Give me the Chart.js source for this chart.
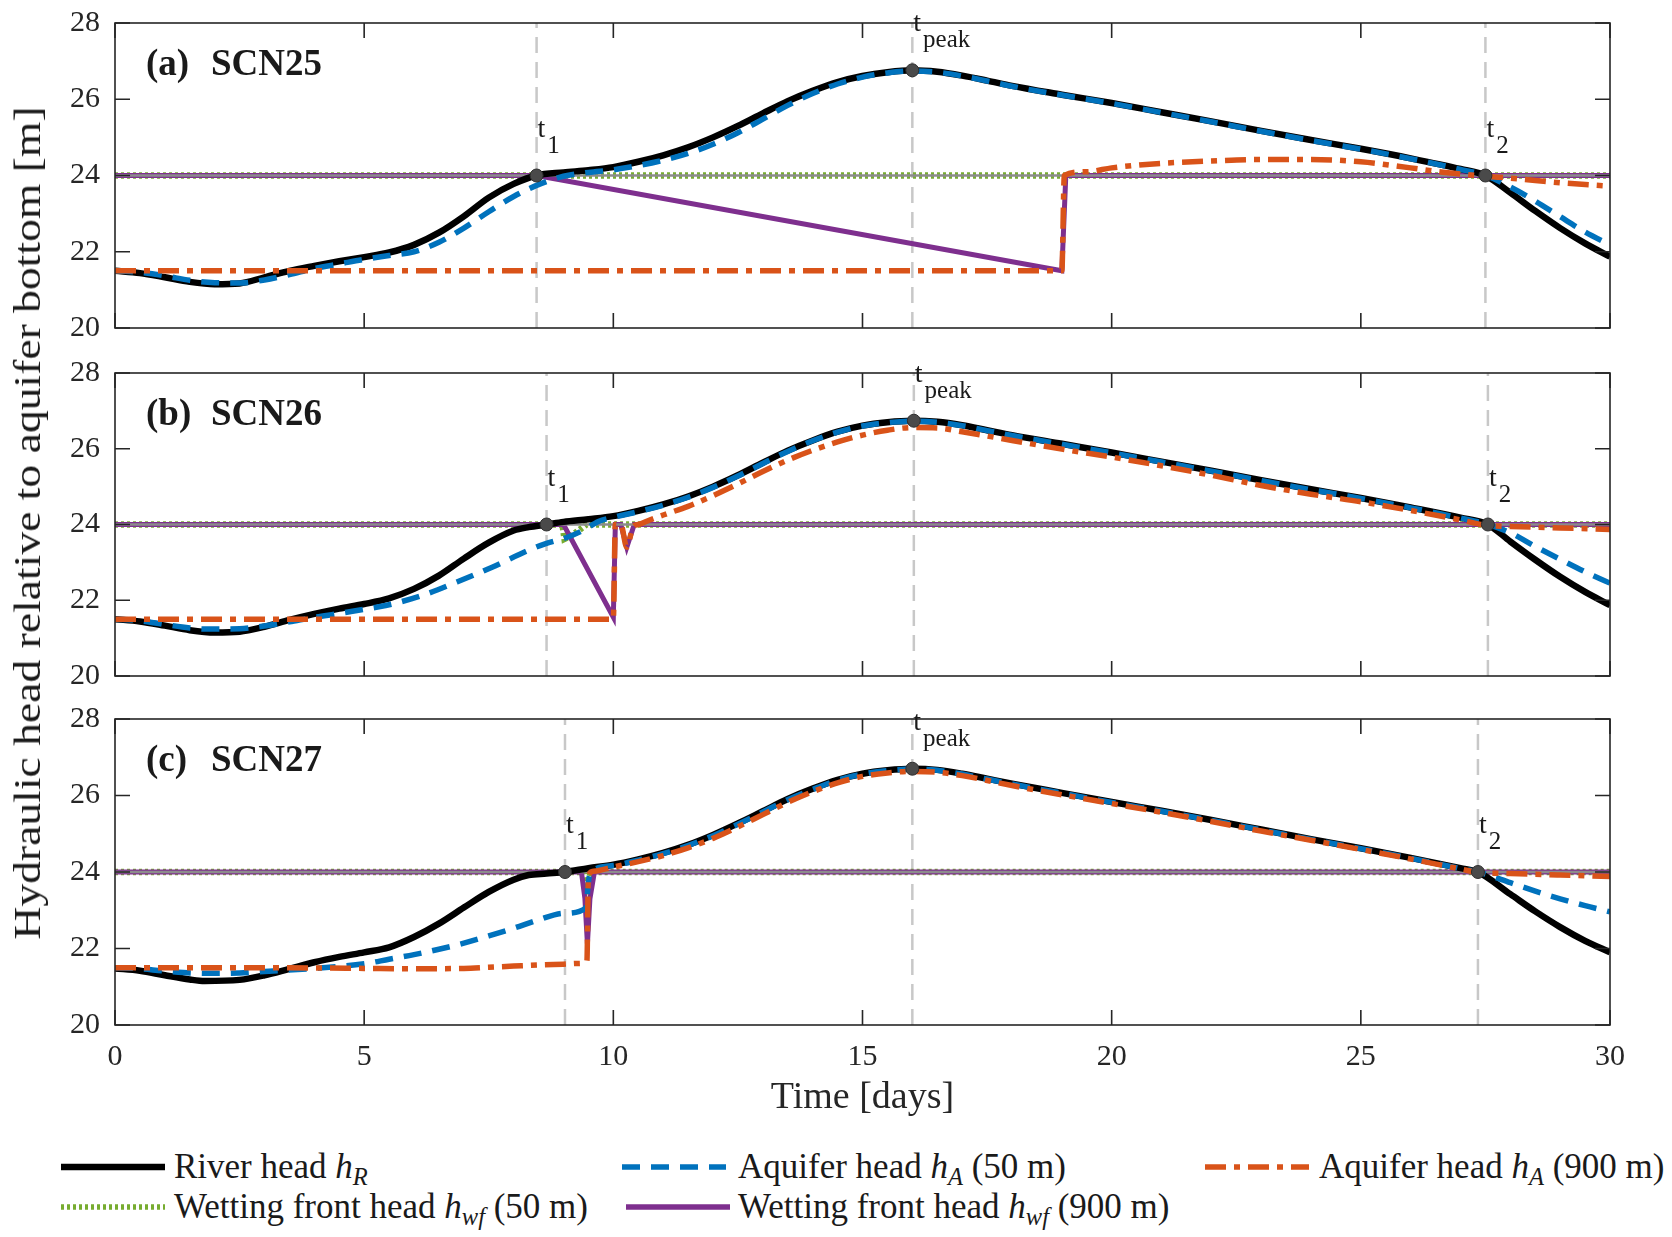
<!DOCTYPE html>
<html>
<head>
<meta charset="utf-8">
<script src="https://cdn.jsdelivr.net/npm/chart.js@4.4.0/dist/chart.umd.min.js"></script>
<style>
body { margin:0; background:#fff; width:1672px; height:1237px; position:relative; overflow:hidden; font-family:"Liberation Serif", serif; color:#1a1a1a; }
canvas { position:absolute; left:0; }
#ylab { position:absolute; left:27px; top:523px; transform:translate(-50%,-50%) rotate(-90deg) scaleX(1.2); white-space:nowrap; font-family:"Liberation Serif", serif; font-size:38px; }
.lt { position:absolute; font-family:"Liberation Serif", serif; font-size:35px; line-height:1; transform:translateY(-52%); white-space:nowrap; }
.lt sub { font-size:70%; vertical-align:-0.3em; line-height:0; }
</style>
</head>
<body>
<canvas id="pa" width="1672" height="345" style="top:0px"></canvas>
<canvas id="pb" width="1672" height="345" style="top:345px"></canvas>
<canvas id="pc" width="1672" height="450" style="top:690px"></canvas>
<div id="ylab">Hydraulic head relative to aquifer bottom [m]</div>
<div id="legend"></div>
<script>
// time [days], head [m] pairs

// (a) SCN25
var riverA = [[0,21.5],[0.5,21.44],[1,21.33],[1.5,21.21],[2,21.15],[2.5,21.17],[3,21.33],[3.5,21.5],[4,21.63],[4.5,21.75],[5,21.86],[5.5,21.98],[6,22.18],[6.5,22.5],[7,22.93],[7.5,23.42],[8,23.78],[8.46,24.0],[9,24.08],[9.5,24.14],[10,24.22],[10.5,24.36],[11,24.53],[11.5,24.74],[12,25.0],[12.5,25.3],[13,25.63],[13.5,25.95],[14,26.22],[14.5,26.45],[15,26.61],[15.5,26.71],[16,26.76],[16.5,26.72],[17,26.62],[17.5,26.49],[18,26.35],[19,26.12],[20,25.9],[21,25.66],[22,25.42],[23,25.17],[24,24.93],[25,24.7],[26,24.45],[27,24.17],[27.5,24.0],[28,23.55],[28.5,23.07],[29,22.62],[29.5,22.22],[30,21.87]];
var aq50A = [[0,21.5],[0.5,21.46],[1,21.37],[1.5,21.25],[2,21.19],[2.5,21.18],[3,21.26],[3.5,21.4],[4,21.56],[4.5,21.68],[5,21.8],[5.5,21.9],[6,22.0],[6.5,22.25],[7,22.62],[7.5,23.05],[8,23.45],[8.46,23.74],[9,23.98],[9.5,24.08],[10,24.15],[10.5,24.26],[11,24.4],[11.5,24.58],[12,24.82],[12.5,25.12],[13,25.48],[13.5,25.84],[14,26.15],[14.5,26.4],[15,26.58],[15.5,26.69],[16,26.74],[16.5,26.71],[17,26.61],[17.5,26.48],[18,26.34],[19,26.11],[20,25.89],[21,25.65],[22,25.41],[23,25.16],[24,24.92],[25,24.69],[26,24.44],[27,24.16],[27.5,24.0],[28,23.7],[28.5,23.33],[29,22.92],[29.5,22.52],[30,22.18]];
var aq900A = [[0,21.5],[19.0,21.5],[19.05,24.0],[19.5,24.1],[20,24.2],[20.5,24.27],[21,24.32],[22,24.38],[23,24.42],[24,24.42],[25,24.36],[26,24.2],[26.5,24.11],[27,24.04],[27.5,23.98],[28,23.93],[28.5,23.87],[29,23.81],[30,23.72]];
var wf50A = [[0,24],[30,24]];
var wf900A = [[0,24],[8.46,24],[19.0,21.5],[19.08,24.0],[30,24]];
var eventTimesA = [8.46, 16.0, 27.5];
var eventHeadsA = [24, 26.76, 24];

// (b) SCN26
var riverB = [[0,21.5],[0.5,21.44],[1,21.33],[1.5,21.21],[2,21.15],[2.5,21.17],[3,21.3],[3.5,21.48],[4,21.64],[4.5,21.78],[5,21.9],[5.5,22.05],[6,22.3],[6.5,22.65],[7,23.1],[7.5,23.52],[8,23.84],[8.3,23.93],[8.66,24.0],[9,24.07],[9.5,24.14],[10,24.22],[10.5,24.36],[11,24.53],[11.5,24.74],[12,25.0],[12.5,25.3],[13,25.63],[13.5,25.95],[14,26.22],[14.5,26.45],[15,26.61],[15.5,26.7],[16,26.74],[16.5,26.71],[17,26.62],[17.5,26.49],[18,26.36],[19,26.13],[20,25.9],[21,25.66],[22,25.42],[23,25.17],[24,24.93],[25,24.7],[26,24.45],[27,24.18],[27.55,24.0],[28,23.55],[28.5,23.07],[29,22.62],[29.5,22.22],[30,21.87]];
var aq50B = [[0,21.5],[0.5,21.46],[1,21.36],[1.5,21.27],[1.84,21.24],[2.5,21.25],[3,21.32],[3.5,21.43],[4,21.55],[4.5,21.65],[5,21.76],[5.43,21.86],[6.15,22.12],[6.86,22.48],[7.58,22.88],[8.3,23.32],[8.63,23.49],[9.09,23.67],[9.4,23.85],[9.7,24.08],[10,24.19],[10.5,24.34],[11,24.51],[11.5,24.72],[12,24.98],[12.5,25.28],[13,25.61],[13.5,25.93],[14,26.21],[14.5,26.44],[15,26.6],[15.5,26.69],[16,26.73],[16.5,26.7],[17,26.61],[17.5,26.48],[18,26.35],[19,26.12],[20,25.89],[21,25.65],[22,25.41],[23,25.16],[24,24.92],[25,24.69],[26,24.44],[27,24.17],[27.55,24.0],[28,23.78],[28.5,23.42],[29,23.08],[29.5,22.75],[30,22.45]];
var aq900B = [[0,21.5],[10.0,21.5],[10.04,24.0],[10.15,24.0],[10.27,23.4],[10.4,23.95],[10.5,24.0],[10.73,24.12],[11,24.25],[11.5,24.48],[12,24.76],[12.5,25.07],[13,25.4],[13.5,25.7],[14,25.96],[14.5,26.18],[15,26.36],[15.5,26.49],[16,26.56],[16.5,26.55],[17,26.45],[18,26.22],[19,25.99],[20,25.78],[21,25.55],[22,25.3],[23,25.03],[24,24.8],[25,24.6],[26,24.37],[27,24.12],[27.55,23.97],[28,23.95],[29,23.91],[30,23.87]];
var wf50B = [[0,24],[8.98,24],[9.02,23.62],[9.2,23.74],[9.46,24.0],[30,24]];
var wf900B = [[0,24],[9.0,24],[10.0,21.55],[10.04,24.0],[10.15,24.0],[10.27,23.4],[10.42,24.0],[30,24]];
var eventTimesB = [8.66, 16.03, 27.55];
var eventHeadsB = [24, 26.74, 24];

// (c) SCN27
var riverC = [[0,21.48],[0.5,21.42],[1,21.3],[1.5,21.19],[1.8,21.15],[2.5,21.18],[3,21.3],[3.5,21.47],[4,21.64],[4.5,21.78],[5,21.9],[5.5,22.03],[6,22.3],[6.5,22.65],[7,23.07],[7.5,23.48],[8,23.8],[8.3,23.92],[8.66,23.96],[9.03,24.0],[9.5,24.1],[10,24.19],[10.5,24.33],[11,24.5],[11.5,24.71],[12,24.97],[12.5,25.27],[13,25.59],[13.5,25.91],[14,26.18],[14.5,26.41],[15,26.57],[15.5,26.66],[16,26.7],[16.5,26.67],[17,26.57],[17.5,26.44],[18,26.31],[19,26.07],[20,25.83],[21,25.6],[22,25.36],[23,25.11],[24,24.86],[25,24.62],[26,24.37],[27,24.1],[27.35,24.0],[28,23.42],[28.5,22.97],[29,22.56],[29.5,22.2],[30,21.9]];
var aq50C = [[0,21.5],[0.5,21.47],[1,21.41],[1.84,21.35],[2.5,21.36],[3,21.4],[4,21.48],[5,21.6],[5.5,21.72],[6,21.84],[6.5,21.98],[7,22.14],[7.5,22.33],[8,22.53],[8.5,22.75],[9,22.92],[9.45,23.06],[9.5,23.75],[9.6,24.05],[10,24.17],[10.5,24.31],[11,24.48],[11.5,24.69],[12,24.95],[12.5,25.25],[13,25.57],[13.5,25.89],[14,26.16],[14.5,26.4],[15,26.56],[15.5,26.65],[16,26.69],[16.5,26.66],[17,26.56],[17.5,26.43],[18,26.3],[19,26.06],[20,25.82],[21,25.59],[22,25.35],[23,25.1],[24,24.85],[25,24.61],[26,24.36],[27,24.09],[27.35,24.0],[28,23.72],[28.5,23.5],[29,23.3],[29.5,23.12],[30,22.96]];
var aq900C = [[0,21.5],[2,21.5],[4,21.49],[5,21.48],[6,21.47],[7,21.48],[7.5,21.51],[8,21.54],[8.5,21.57],[9,21.59],[9.3,21.61],[9.47,21.68],[9.5,23.9],[9.6,24.02],[10,24.13],[10.5,24.27],[11,24.43],[11.5,24.63],[12,24.88],[12.5,25.18],[13,25.5],[13.5,25.82],[14,26.1],[14.5,26.33],[15,26.5],[15.5,26.59],[16,26.63],[16.5,26.61],[17,26.52],[18,26.26],[19,26.02],[20,25.79],[21,25.56],[22,25.32],[23,25.07],[24,24.83],[25,24.59],[26,24.34],[27,24.08],[27.35,23.99],[28,23.96],[29,23.92],[30,23.88]];
var wf50C = [[0,24],[9.4,24],[9.47,23.65],[9.55,24],[30,24]];
var wf900C = [[0,24],[9.36,24],[9.43,23.3],[9.48,22.12],[9.53,23.3],[9.62,24],[30,24]];
var eventTimesC = [9.03, 16.0, 27.35];
var eventHeadsC = [24, 26.7, 24];

var eventNames = ['1', 'peak', '2'];
var bankLevel = [[0,24],[30,24]];

var SERIF = '"Liberation Serif", "Times New Roman", serif';
var INK = '#262626';

function pts(arr) {
    return arr.map(function (p) { return { x: p[0], y: p[1] }; });
}

var boxPlugin = {
    id: 'box',
    afterDatasetsDraw: function (chart) {
        var ctx = chart.ctx, a = chart.chartArea, x = chart.scales.x, y = chart.scales.y;
        ctx.save();
        ctx.strokeStyle = INK;
        ctx.lineWidth = 1.6;
        ctx.strokeRect(a.left, a.top, a.right - a.left, a.bottom - a.top);
        ctx.beginPath();
        x.ticks.forEach(function (t) {
            var px = x.getPixelForValue(t.value);
            ctx.moveTo(px, a.bottom); ctx.lineTo(px, a.bottom - 15);
            ctx.moveTo(px, a.top); ctx.lineTo(px, a.top + 15);
        });
        y.ticks.forEach(function (t) {
            var py = y.getPixelForValue(t.value);
            ctx.moveTo(a.left, py); ctx.lineTo(a.left + 15, py);
            ctx.moveTo(a.right, py); ctx.lineTo(a.right - 15, py);
        });
        ctx.stroke();
        ctx.restore();
    },
    afterDraw: function (chart, args, opts) {
        var ctx = chart.ctx, a = chart.chartArea, x = chart.scales.x, y = chart.scales.y;
        ctx.save();
        ctx.fillStyle = '#1a1a1a';
        ctx.textBaseline = 'alphabetic';
        opts.times.forEach(function (t, i) {
            var px = x.getPixelForValue(t), py = y.getPixelForValue(opts.heads[i]);
            ctx.font = '28px ' + SERIF;
            ctx.fillText('t', px + 1, py - 39);
            var w = ctx.measureText('t').width;
            ctx.font = '25px ' + SERIF;
            ctx.fillText(eventNames[i], px + w + 3, py - 23);
        });
        ctx.font = 'bold 37px ' + SERIF;
        ctx.fillText(opts.tag, a.left + 31, a.top + 52);
        ctx.fillText(opts.name, a.left + 96, a.top + 52);
        ctx.restore();
    }
};

function makePanel(id, p) {
    var ds = [];
    ds.push({ data: pts(p.times.map(function (t, i) { return [t, p.heads[i]]; })), showLine: false,
        pointRadius: 6.5, pointBackgroundColor: '#4a4a4a', pointBorderColor: '#2e2e2e', pointBorderWidth: 1, order: 0 });
    ds.push({ data: pts(p.aq900), borderColor: '#D95319', borderWidth: 5.5, borderDash: [21, 8, 6, 8],
        cubicInterpolationMode: 'monotone', pointRadius: 0, order: 1 });
    ds.push({ data: pts(p.aq50), borderColor: '#0072BD', borderWidth: 5.5, borderDash: [18, 11],
        cubicInterpolationMode: 'monotone', pointRadius: 0, order: 2 });
    ds.push({ data: pts(p.river), borderColor: '#000000', borderWidth: 6.5,
        cubicInterpolationMode: 'monotone', pointRadius: 0, order: 3 });
    ds.push({ data: pts(bankLevel), borderColor: '#8c8c8c', borderWidth: 2.5, pointRadius: 0, order: 4 });
    ds.push({ data: pts(p.wf900), borderColor: '#7E2F8E', borderWidth: 5, tension: 0, pointRadius: 0, order: 5 });
    ds.push({ data: pts(p.wf50), borderColor: '#77AC30', borderWidth: 6.5, borderDash: [3, 3], tension: 0, pointRadius: 0, order: 6 });
    p.times.forEach(function (t) {
        ds.push({ data: pts([[t, 20], [t, 28]]), borderColor: '#c8c8c8', borderWidth: 2.5, borderDash: [16, 9],
            pointRadius: 0, order: 7 });
    });

    return new Chart(document.getElementById(id), {
        type: 'line',
        data: { datasets: ds },
        options: {
            responsive: false,
            animation: false,
            devicePixelRatio: 1,
            events: [],
            layout: { padding: { left: 0, right: 62, top: p.padTop, bottom: 0 } },
            plugins: {
                legend: { display: false },
                tooltip: { enabled: false },
                box: { times: p.times, heads: p.heads, tag: p.tag, name: p.name }
            },
            scales: {
                x: {
                    type: 'linear', min: 0, max: 30,
                    grid: { display: false }, border: { display: false },
                    ticks: { display: p.showX, stepSize: 5, padding: 6, maxRotation: 0, color: INK,
                        font: { family: SERIF, size: 30 } },
                    title: { display: p.showX, text: 'Time [days]', color: INK,
                        font: { family: SERIF, size: 38 }, padding: { top: 0, bottom: 19 } },
                    afterFit: function (s) { s.height = p.xH; s.paddingLeft = 0; s.paddingRight = 0; }
                },
                y: {
                    min: 20, max: 28,
                    grid: { display: false }, border: { display: false },
                    ticks: { stepSize: 2, padding: 7, color: INK, font: { family: SERIF, size: 30 } },
                    afterFit: function (s) { s.width = 115; s.paddingTop = 0; s.paddingBottom = 0; }
                }
            }
        },
        plugins: [boxPlugin]
    });
}

// chart areas: (a) 23-327, (b) 373-675, (c) 719-1023 px
makePanel('pa', { river: riverA, aq50: aq50A, aq900: aq900A, wf50: wf50A, wf900: wf900A,
    times: eventTimesA, heads: eventHeadsA, tag: '(a)', name: 'SCN25', padTop: 23, xH: 17, showX: false });
makePanel('pb', { river: riverB, aq50: aq50B, aq900: aq900B, wf50: wf50B, wf900: wf900B,
    times: eventTimesB, heads: eventHeadsB, tag: '(b)', name: 'SCN26', padTop: 28, xH: 14, showX: false });
makePanel('pc', { river: riverC, aq50: aq50C, aq900: aq900C, wf50: wf50C, wf900: wf900C,
    times: eventTimesC, heads: eventHeadsC, tag: '(c)', name: 'SCN27', padTop: 29, xH: 115, showX: true });

// legend
var legendItems = [
    { color: '#000000', width: 6.5, dash: [], x: 61, tx: 174, y: 1167, html: 'River head <i>h</i><sub><i>R</i></sub>' },
    { color: '#0072BD', width: 5.5, dash: [18, 11], x: 622, tx: 738, y: 1167, html: 'Aquifer head <i>h</i><sub><i>A</i></sub> (50 m)' },
    { color: '#D95319', width: 5.5, dash: [21, 8, 6, 8], x: 1205, tx: 1319, y: 1167, html: 'Aquifer head <i>h</i><sub><i>A</i></sub> (900 m)' },
    { color: '#77AC30', width: 5.5, dash: [3, 3], x: 61, tx: 174, y: 1207, html: 'Wetting front head <i>h</i><sub><i>wf</i></sub> (50 m)' },
    { color: '#7E2F8E', width: 5.5, dash: [], x: 626, tx: 738, y: 1207, html: 'Wetting front head <i>h</i><sub><i>wf</i></sub> (900 m)' }
];
var leg = document.getElementById('legend');
legendItems.forEach(function (it) {
    var c = document.createElement('canvas');
    c.width = 104; c.height = 14;
    c.style.left = it.x + 'px';
    c.style.top = (it.y - 7) + 'px';
    var g = c.getContext('2d');
    g.strokeStyle = it.color; g.lineWidth = it.width; g.setLineDash(it.dash);
    g.beginPath(); g.moveTo(0, 7); g.lineTo(104, 7); g.stroke();
    leg.appendChild(c);
    var t = document.createElement('div');
    t.className = 'lt';
    t.style.left = it.tx + 'px';
    t.style.top = it.y + 'px';
    t.innerHTML = it.html;
    leg.appendChild(t);
});
</script>
</body>
</html>
